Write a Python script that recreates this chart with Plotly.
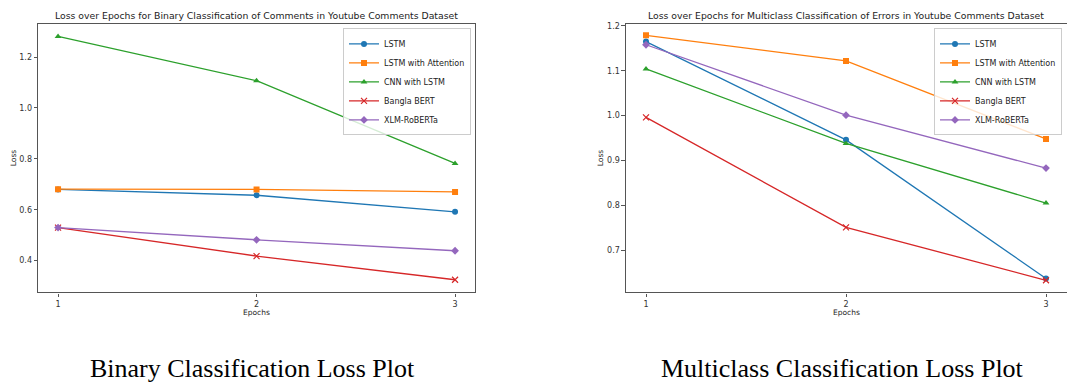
import plotly.graph_objects as go

# The page body adds an 8px margin; the figure is sized so it ends at the window edge.
OFF = 8
W, H = 1075 - OFF, 382 - OFF

epochs = [1, 2, 3]
models = ["LSTM", "LSTM with Attention", "CNN with LSTM", "Bangla BERT", "XLM-RoBERTa"]

binary_lstm = [0.680, 0.657, 0.592]
binary_lstm_att = [0.681, 0.680, 0.670]
binary_cnn_lstm = [1.281, 1.107, 0.782]
binary_bangla_bert = [0.530, 0.418, 0.325]
binary_xlm_roberta = [0.530, 0.482, 0.439]

multi_lstm = [1.165, 0.946, 0.637]
multi_lstm_att = [1.179, 1.122, 0.948]
multi_cnn_lstm = [1.104, 0.938, 0.805]
multi_bangla_bert = [0.996, 0.751, 0.633]
multi_xlm_roberta = [1.158, 1.001, 0.883]

binary_series = [binary_lstm, binary_lstm_att, binary_cnn_lstm, binary_bangla_bert, binary_xlm_roberta]
multi_series = [multi_lstm, multi_lstm_att, multi_cnn_lstm, multi_bangla_bert, multi_xlm_roberta]

colors = ["#1f77b4", "#ff7f0e", "#2ca02c", "#d62728", "#9467bd"]
symbols = ["circle", "square", "triangle-up", "x-thin", "diamond"]

title_left = "Loss over Epochs for Binary Classification of Comments in Youtube Comments Dataset"
title_right = "Loss over Epochs for Multiclass Classification of Errors in Youtube Comments Dataset"
caption_left = "Binary Classification Loss Plot"
caption_right = "Multiclass Classification Loss Plot"


def px(x):
    return (x - OFF) / W


def py(y):
    return 1 - (y - OFF) / H


fig = go.Figure()


def add_series(series, xa, ya, legend):
    for name, vals, c, s in zip(models, series, colors, symbols):
        if s == "x-thin":
            marker = dict(symbol=s, size=6, color=c, line=dict(color=c, width=1.2))
        else:
            marker = dict(symbol=s, size=6, color=c, line=dict(width=0))
        fig.add_trace(go.Scatter(
            x=epochs, y=vals, name=name, mode="lines+markers",
            line=dict(color=c, width=1.3), marker=marker,
            xaxis=xa, yaxis=ya, legend=legend,
        ))


add_series(binary_series, "x", "y", "legend")
add_series(multi_series, "x2", "y2", "legend2")

ydom = [py(292), py(22)]
tickfont = dict(family="DejaVu Sans", size=8, color="#333")
axis_common = dict(showgrid=False, zeroline=False, showline=True, linecolor="#555", linewidth=1.2,
                   ticks="outside", ticklen=3.5, tickcolor="#555", tickwidth=0.8, tickfont=tickfont)

legend_common = dict(yanchor="top", xanchor="right", y=py(26.5),
                     bgcolor="rgba(255,255,255,0.8)", bordercolor="#ccc", borderwidth=1,
                     font=dict(family="DejaVu Sans", size=8, color="#222"), itemwidth=30)

fig.update_layout(
    width=W, height=H, margin=dict(l=0, r=0, t=0, b=0),
    paper_bgcolor="white", plot_bgcolor="white",
    xaxis=dict(domain=[px(38.2), px(474.9)], range=[0.9, 3.1], tickvals=epochs, mirror=True,
               anchor="y", **axis_common),
    yaxis=dict(domain=ydom, range=[0.275, 1.330], tickvals=[0.4, 0.6, 0.8, 1.0, 1.2],
               ticktext=["0.4", "0.6", "0.8", "1.0", "1.2"], mirror=True, anchor="x", **axis_common),
    xaxis2=dict(domain=[px(626), 1.0], range=[0.9, 3.145], tickvals=epochs, mirror=True,
                anchor="y2", **axis_common),
    yaxis2=dict(domain=ydom, range=[0.6058, 1.2044], tickvals=[0.7, 0.8, 0.9, 1.0, 1.1, 1.2],
                ticktext=["0.7", "0.8", "0.9", "1.0", "1.1", "1.2"], anchor="x2", **axis_common),
    legend=dict(x=px(471), **legend_common),
    legend2=dict(x=px(1062), **legend_common),
    showlegend=True,
)

ann_font = dict(family="DejaVu Sans", size=9.3, color="#222")
lab_font = dict(family="DejaVu Sans", size=7.5, color="#222")
cap_font = dict(family="Liberation Serif", size=26, color="black")

annotations = [
    dict(text=title_left, x=px(256.5), y=py(14), font=ann_font),
    dict(text=title_right, x=px(846), y=py(14), font=ann_font),
    dict(text="Loss", x=px(13), y=py(157), font=lab_font, textangle=-90),
    dict(text="Loss", x=px(600), y=py(157), font=lab_font, textangle=-90),
    dict(text="Epochs", x=px(256.5), y=py(312), font=lab_font),
    dict(text="Epochs", x=px(846), y=py(312), font=lab_font),
    dict(text=caption_left, x=px(253), y=py(368), font=cap_font),
    dict(text=caption_right, x=px(842), y=py(368), font=cap_font),
]
for a in annotations:
    a.update(xref="paper", yref="paper", showarrow=False, xanchor="center", yanchor="middle")
fig.update_layout(annotations=annotations)

fig.write_html("out.html")
